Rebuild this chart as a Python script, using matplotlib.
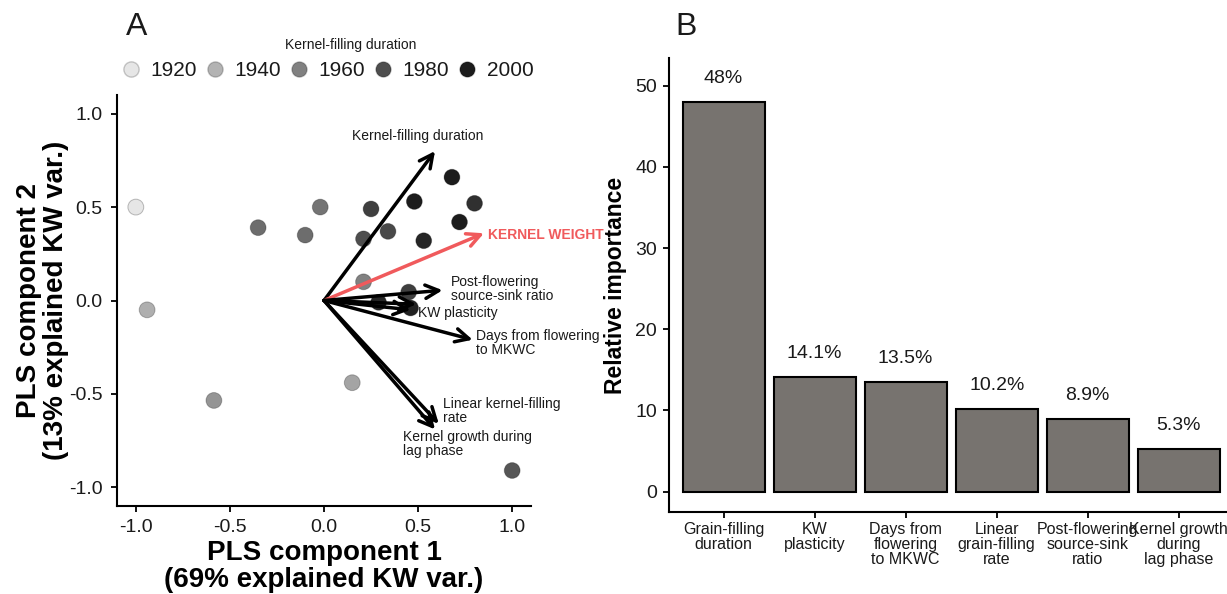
"""
Two-panel figure: PLS biplot of kernel traits (A) and relative importance bars (B).
"""

import matplotlib.pyplot as plt
import matplotlib.colors as mcolors
from matplotlib.lines import Line2D

# ── Data ──────────────────────────────────────────────────────────────────────
# Panel A: PLS scores (one point per hybrid) and release year
score_x = [-1.00, -0.94, -0.35, -0.10, -0.02, -0.585, 0.15, 0.21, 0.21, 0.25,
           0.34, 0.48, 0.53, 0.68, 0.72, 0.80, 0.29, 0.45, 0.46, 1.00]
score_y = [0.50, -0.05, 0.39, 0.35, 0.50, -0.535, -0.44, 0.10, 0.33, 0.49,
           0.37, 0.53, 0.32, 0.66, 0.42, 0.52, -0.01, 0.045, -0.04, -0.91]
score_year = [1920, 1942, 1968, 1968, 1965, 1952, 1946, 1960, 1980, 1986,
              1982, 2000, 1996, 2000, 2000, 1992, 1996, 1986, 1998, 1977]
legend_years = [1920, 1940, 1960, 1980, 2000]

# Panel A: loadings (arrow tips)
load_x = [0.59, 0.85, 0.63, 0.49, 0.46, 0.79, 0.61, 0.59]
load_y = [0.80, 0.36, 0.055, -0.02, -0.05, -0.21, -0.66, -0.69]
load_label = ["Kernel-filling duration", "KERNEL WEIGHT",
              "Post-flowering\nsource-sink ratio", "KW plasticity", "",
              "Days from flowering\nto MKWC", "Linear kernel-filling\nrate",
              "Kernel growth during\nlag phase"]

# Panel B: relative importance
traits = ["Grain-filling\nduration", "KW\nplasticity", "Days from\nflowering\nto MKWC",
          "Linear\ngrain-filling\nrate", "Post-flowering\nsource-sink\nratio",
          "Kernel growth\nduring\nlag phase"]
importance = [48.0, 14.1, 13.5, 10.2, 8.9, 5.3]
importance_txt = ["48%", "14.1%", "13.5%", "10.2%", "8.9%", "5.3%"]

# ── Theme ─────────────────────────────────────────────────────────────────────
INK = "#1a1a1a"
RED = "#f05a5c"
BAR = "#77736f"

plt.rcParams.update({
    "font.family": ["Liberation Sans", "DejaVu Sans"],
    "text.color": INK,
    "axes.edgecolor": "black",
    "axes.linewidth": 1.5,
    "xtick.color": "black",
    "ytick.color": "black",
    "xtick.labelcolor": INK,
    "ytick.labelcolor": INK,
    "xtick.major.width": 1.3,
    "ytick.major.width": 1.3,
    "xtick.major.size": 4.5,
    "ytick.major.size": 4.5,
})

year_cmap = mcolors.LinearSegmentedColormap.from_list("yr", ["#e6e6e6", "#1c1c1c"])
year_norm = mcolors.Normalize(1920, 2000)


def clean_axes(ax):
    for side in ("top", "right"):
        ax.spines[side].set_visible(False)


# ── Panel A ───────────────────────────────────────────────────────────────────
def plot_biplot(fig, ax):
    ax.scatter(score_x, score_y, c=score_year, cmap=year_cmap, norm=year_norm,
               s=130, edgecolors=(0, 0, 0, 0.25), linewidths=0.7, zorder=2)

    # label placement for each loading arrow
    lab_pos = [(0.50, 0.88, "center"), (0.87, 0.35, "left"), (0.675, 0.06, "left"),
               (0.50, -0.065, "left"), (0, 0, "left"), (0.81, -0.23, "left"),
               (0.633, -0.59, "left"), (0.42, -0.77, "left")]

    for i, (lx, ly, name) in enumerate(zip(load_x, load_y, load_label)):
        col = RED if name == "KERNEL WEIGHT" else "black"
        ax.annotate("", xy=(lx, ly), xytext=(0, 0),
                    arrowprops=dict(arrowstyle="->", color=col, lw=2.5,
                                    mutation_scale=24, shrinkA=0, shrinkB=0),
                    zorder=3)
        if name:
            tx, ty, ha = lab_pos[i]
            ax.text(tx, ty, name, ha=ha, va="center", fontsize=10,
                    linespacing=1.0, color=RED if col == RED else INK,
                    fontweight="bold" if col == RED else "normal", zorder=4)

    ax.set_xlim(-1.1, 1.1)
    ax.set_ylim(-1.1, 1.1)
    ticks = [-1.0, -0.5, 0.0, 0.5, 1.0]
    ax.set_xticks(ticks, [f"{t:.1f}" for t in ticks])
    ax.set_yticks(ticks, [f"{t:.1f}" for t in ticks])
    ax.tick_params(labelsize=14)
    ax.tick_params(axis="x", pad=5)
    ax.tick_params(axis="y", pad=6)
    clean_axes(ax)
    ax.set_xlabel("PLS component 1\n(69% explained KW var.)", fontsize=20,
                  fontweight="bold", linespacing=1.05, labelpad=3)
    ax.set_ylabel("PLS component 2\n(13% explained KW var.)", fontsize=20,
                  fontweight="bold", linespacing=1.05, labelpad=0)

    # year legend (title placed separately, as in the original)
    handles = [Line2D([], [], marker="o", linestyle="", markersize=11,
                      markerfacecolor=year_cmap(year_norm(y)),
                      markeredgecolor=(0, 0, 0, 0.2)) for y in legend_years]
    fig.legend(handles, [str(y) for y in legend_years], ncol=5,
               loc="center", bbox_to_anchor=(328 / 1227, 1 - 71 / 594),
               frameon=False, fontsize=15, handletextpad=0.55, columnspacing=0.45,
               handlelength=0.8, borderpad=0.1)
    fig.text(351 / 1227, 1 - 45 / 594, "Kernel-filling duration", fontsize=10,
             ha="center", va="center", color=INK)


# ── Panel B ───────────────────────────────────────────────────────────────────
def plot_importance(ax):
    pos = range(len(traits))
    ax.bar(pos, importance, width=0.9, color=BAR, edgecolor="black", linewidth=1.5)
    for p, v, t in zip(pos, importance, importance_txt):
        ax.text(p, v + 2.9, t, ha="center", va="center", fontsize=14, color=INK)

    ax.set_xlim(-0.6, 5.53)
    ax.set_ylim(-2.5, 53.4)
    ax.set_xticks(list(pos), traits)
    ax.set_yticks([0, 10, 20, 30, 40, 50])
    ax.tick_params(axis="x", labelsize=11.5, pad=3)
    ax.tick_params(axis="y", labelsize=14, pad=4)
    for lab in ax.get_xticklabels():
        lab.set_linespacing(1.0)
    clean_axes(ax)
    ax.set_ylabel("Relative importance", fontsize=16.5, fontweight="bold", labelpad=6)


def main():
    fig = plt.figure(figsize=(12.27, 5.94), dpi=100)

    ax_a = fig.add_axes([117 / 1227, 1 - 506 / 594, 414 / 1227, 411 / 594])
    ax_b = fig.add_axes([669 / 1227, 1 - 512 / 594, 558 / 1227, 454 / 594])

    plot_biplot(fig, ax_a)
    plot_importance(ax_b)

    fig.text(137 / 1227, 1 - 27 / 594, "A", fontsize=23, ha="center", va="center")
    fig.text(686 / 1227, 1 - 27 / 594, "B", fontsize=23, ha="center", va="center")

    fig.savefig("out.png", dpi=100)


if __name__ == "__main__":
    main()
